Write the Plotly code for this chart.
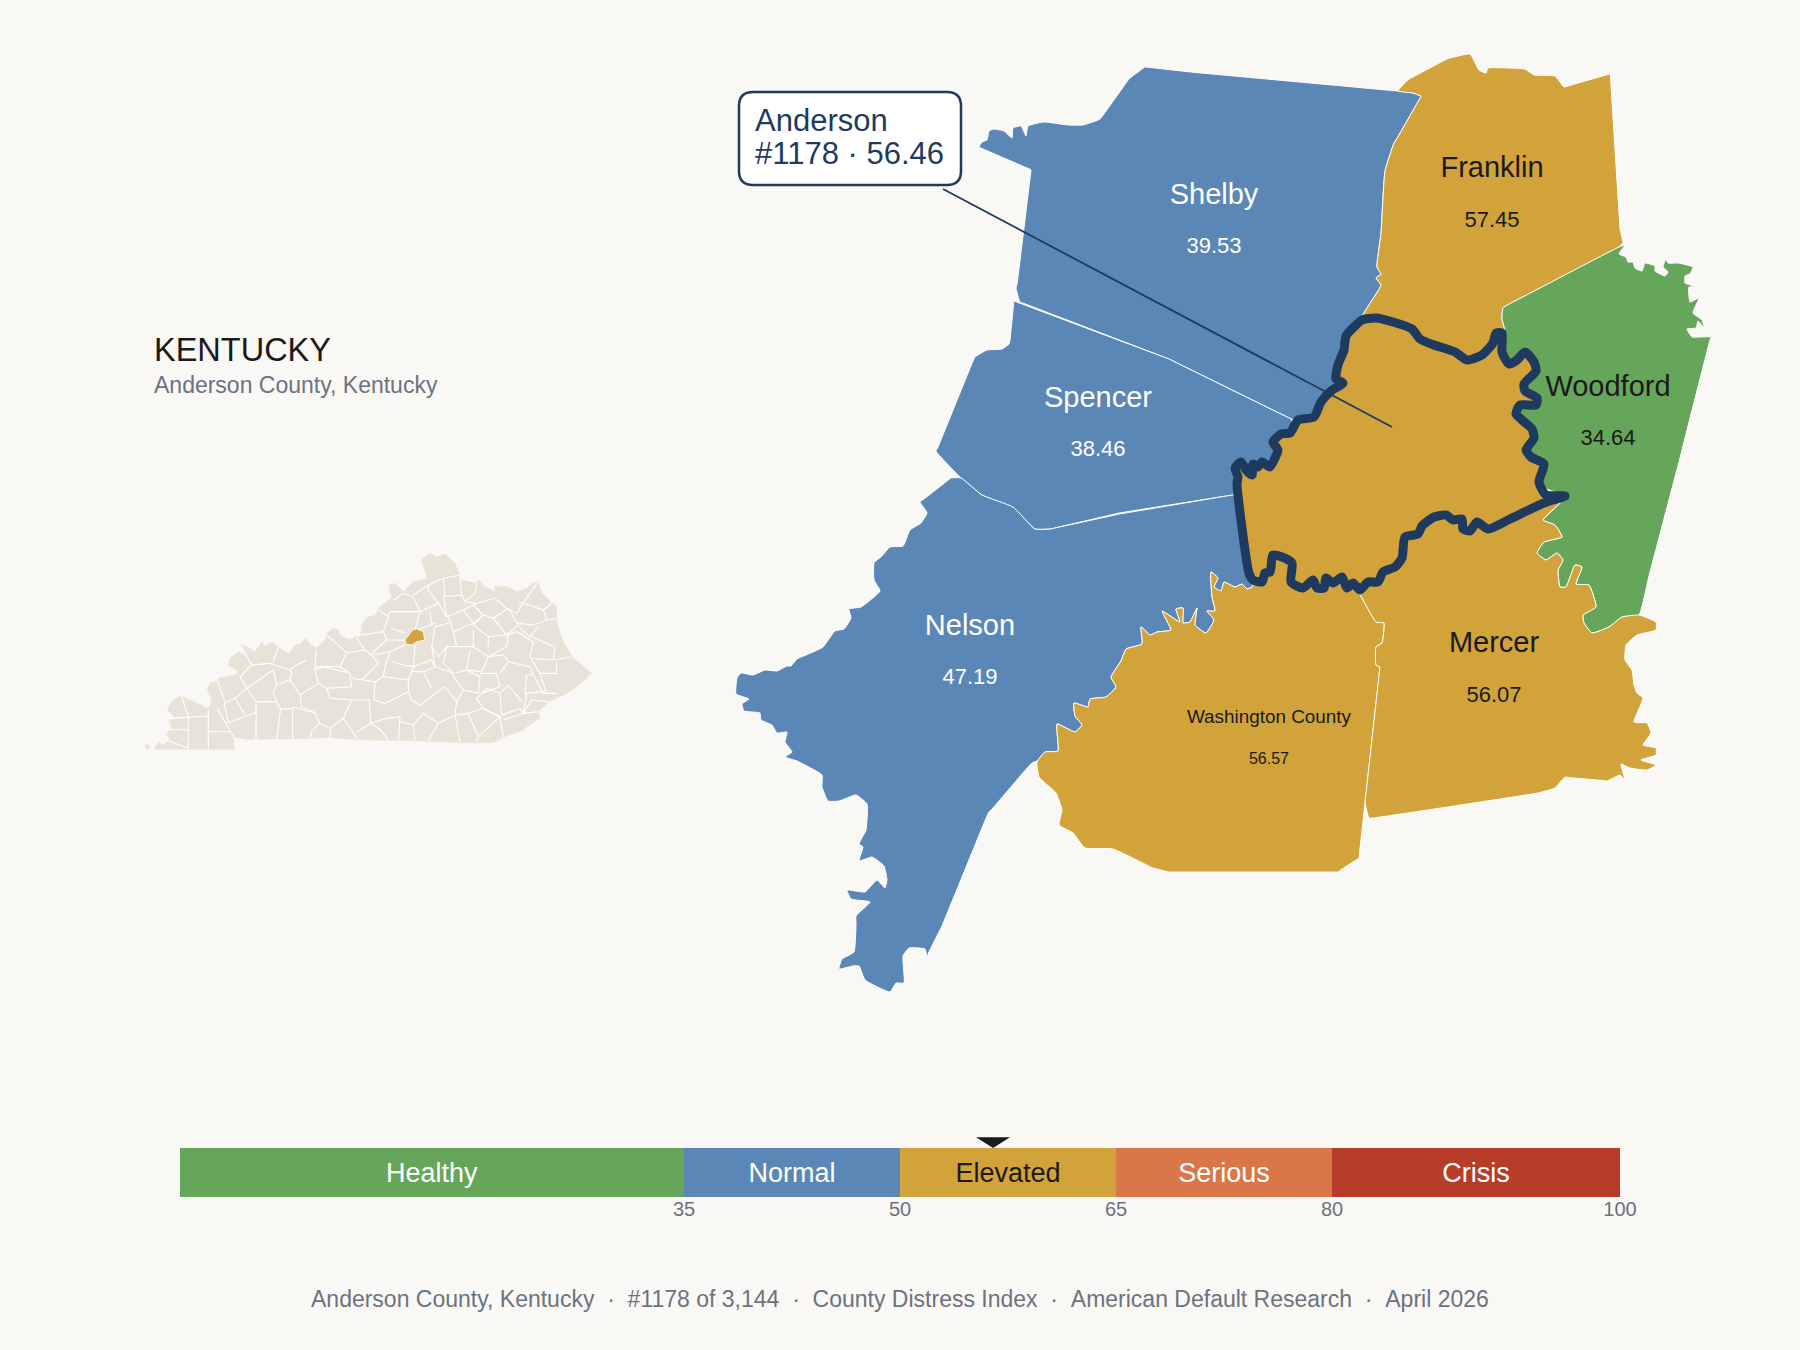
import plotly.graph_objects as go

# county outlines, in map units
shelby = [(1145,67),(1142,69),(1129,79),(1126,83),(1100,119),(1097,120.5),(1083,125),(1068,125),(1044,122),(1028,126),(1026,136),(1021,126),(1013,128),(1012,138),(1004,131),(994,129),(989,131),(987,140),(982,142),(979,147),(983,149),(1027,168),(1031,170),(1030.5,174),(1017,284),(1016,288),(1020,302),(1024,303.5),(1165,357.5),(1169,359),(1173,361),(1287,417),(1291,419),(1340,420),(1370,325),(1362,317),(1369,305),(1381,285),(1376,278),(1381,274),(1377,267),(1381,233),(1385,171),(1394,143),(1396,140),(1419,100),(1421,96),(1417,94.5),(1413,93),(1398,91),(1394,90.7),(1204,73.3),(1200,73),(1150,67.5),(1145,67)]
spencer = [(1014,301),(1018,302.5),(1165,357.5),(1169,359),(1173,361),(1287,417),(1291,419),(1300,480),(1233,495),(1229,495.6),(1123,512.4),(1119,513),(1115,514),(1055,528),(1051,529),(1035,529),(1025,520),(1013,508),(982,495),(961,478),(936,451),(938,447),(973,361),(975,357),(987,350),(1002,349),(1009,344),(1010,340),(1013.5,305),(1014,301)]
nelson = [(951,478),(961,478),(982,495),(1013,507),(1035,529),(1051,529),(1055,528),(1115,515),(1119,514),(1123,513.4),(1229,495.6),(1233,495),(1280,500),(1275,560),(1252,587),(1247,589),(1242,584),(1235,587),(1224,582),(1221,591),(1214,587),(1218,578),(1211,572),(1212,597),(1215,611),(1207,611),(1214,620),(1206,633),(1195,625),(1197,608),(1190,622),(1183,623),(1183,608),(1176,609),(1180,622),(1162,611),(1171,630),(1157,632),(1150,635),(1141,627),(1142,644),(1126,649),(1121,661),(1111,677),(1116,687),(1106,697),(1090,699),(1088,707),(1074,703),(1075,716),(1082,725),(1075,732),(1057,724),(1058,751),(1045,752),(1037,761),(1032,763),(993,808),(989,812),(987,816),(942,926),(940,930),(928.5,953),(927,957),(925,949),(909,948),(903,956),(904,983),(896,983),(890,992),(865,980),(859,966),(853,966),(839,969),(842,959),(854,952),(856,925),(856,916),(870,902),(851,899),(847,890),(865,892),(877,880),(885,888),(887,880),(884,866),(872,857),(859,861),(863,847),(859,844),(866,830),(867,804),(856,795),(839,801),(828,801),(822,787),(822,775),(797,761),(785,757),(792,752),(785,742),(787,732),(777,733),(772,725),(761,720),(760,713),(744,711),(742,704),(749,699),(736,694),(737,678),(741,673),(753,675),(765,670),(777,671),(787,666),(791,666),(797,659),(813,652),(823,647),(835,631),(844,629),(851,618),(849,609),(861,607),(880,591),(874,580),(874,563),(882,556),(890,547),(903,546),(910,530),(921,523),(927,513),(920,502),(924,499),(947,481),(951,478)]
franklin = [(1398,91),(1409,79),(1412,77.5),(1444,60.5),(1447,59),(1470,54),(1479,70),(1486,73),(1488,68),(1509,68),(1525,69),(1534,75),(1555,76),(1564,87),(1568,86),(1606,75),(1610,74),(1611,85),(1611.3,90),(1619.7,224),(1620,229),(1623,243),(1619,247),(1517,300),(1513,302),(1503,308),(1502,319),(1505,331),(1500,345),(1420,400),(1370,325),(1362,317),(1369,305),(1381,285),(1376,278),(1381,274),(1377,267),(1381,233),(1385,171),(1394,143),(1396,140),(1419,100),(1421,96),(1417,94.5),(1413,93),(1398,91)]
woodford = [(1625,245),(1619,254),(1626,257),(1628,262),(1633,262),(1635,268),(1642,271),(1645,263),(1655,266),(1655,271),(1665,276),(1668,272),(1663,267),(1666,259),(1668,263),(1678,263),(1693,267),(1690,274),(1685,276),(1685,283),(1697,287),(1689,287),(1690,302),(1699,298),(1693,313),(1702,320),(1704,328),(1698,321),(1696,328),(1687,329),(1692,337),(1700,337),(1711,337),(1710,340),(1683,446),(1682,450),(1680,458),(1649,576),(1648,580),(1639,615),(1622,617),(1609,627),(1592,633),(1584,623),(1583,615),(1596,607),(1589,585),(1576,584),(1582,567),(1575,565),(1566,587),(1560,587),(1558,570),(1563,560),(1557,553),(1546,560),(1537,553),(1544,542),(1562,537),(1555,525),(1543,520),(1565,497),(1500,470),(1500,345),(1505,331),(1502,319),(1503,308),(1513,302),(1517,300),(1619,247),(1625,245)]
washington = [(1037,762),(1039,777),(1056,793),(1062,810),(1059,825),(1073,833),(1085,848),(1113,849),(1153,868),(1157,869),(1169,872),(1173,872),(1334,872),(1338,872),(1341,869.7),(1356,860),(1359,858),(1359.4,854),(1379.6,671),(1380,667),(1376,665),(1376,647),(1382,643),(1384,623),(1376,622),(1359,593),(1330,560),(1270,540),(1252,587),(1247,589),(1242,584),(1235,587),(1224,582),(1221,591),(1214,587),(1218,578),(1211,572),(1212,597),(1215,611),(1207,611),(1214,620),(1206,633),(1195,625),(1197,608),(1190,622),(1183,623),(1183,608),(1176,609),(1180,622),(1162,611),(1171,630),(1157,632),(1150,635),(1141,627),(1142,644),(1126,649),(1121,661),(1111,677),(1116,687),(1106,697),(1090,699),(1088,707),(1074,703),(1075,716),(1082,725),(1075,732),(1057,724),(1058,751),(1045,752),(1037,762)]
mercer = [(1359,593),(1376,622),(1384,623),(1382,643),(1376,647),(1376,665),(1380,667),(1379.5,671),(1365.5,798),(1365,802),(1369,818),(1373,818),(1538,793),(1542,792),(1555,788),(1565,777),(1569,777.5),(1603,780.5),(1607,781),(1620,775),(1625,780),(1621,764),(1630,768),(1647,770),(1656,765),(1641,760),(1656,755),(1656,748),(1643,745),(1651,733),(1647,723),(1634,722),(1643,698),(1637,693),(1634,685),(1632,670),(1625,660),(1626,645),(1637,635),(1656,630),(1656,622),(1639,615),(1622,617),(1609,627),(1592,633),(1584,623),(1583,615),(1596,607),(1589,585),(1576,584),(1582,567),(1575,565),(1566,587),(1560,587),(1558,570),(1563,560),(1557,553),(1546,560),(1537,553),(1544,542),(1562,537),(1555,525),(1543,520),(1565,497),(1480,500),(1400,530),(1330,560),(1359,593)]
anderson = [(1362,320),(1376,318),(1393,322),(1412,329),(1420,339),(1434,345),(1455,352),(1467,360),(1482,355),(1493,343),(1496,333),(1502,333),(1502,352),(1509,364),(1517,360),(1525,352),(1534,362),(1536,371),(1524,384),(1525,391),(1537,398),(1536,405),(1520,405),(1516,414),(1522,420),(1532,429),(1534,438),(1526,450),(1531,457),(1544,464),(1539,482),(1546,495),(1565,496),(1544,503),(1510,519),(1488,529),(1477,522),(1470,531),(1463,529),(1462,519),(1453,520),(1446,515),(1434,517),(1422,526),(1418,534),(1405,537),(1402,558),(1395,567),(1383,572),(1378,582),(1368,582),(1360,590),(1353,583),(1347,588),(1342,577),(1333,583),(1326,578),(1324,588),(1317,588),(1313,580),(1303,588),(1291,582),(1292,563),(1282,557),(1273,555),(1270,572),(1265,573),(1262,582),(1253,580),(1249,573),(1237,483),(1238,477),(1235,468),(1241,462),(1246,470),(1252,475),(1253,464),(1258,467),(1262,462),(1270,467),(1275,458),(1278,450),(1273,442),(1281,434),(1290,433),(1298,420),(1314,417),(1321,402),(1331,391),(1343,383),(1336,379),(1338,365),(1344,350),(1346,336),(1355,326),(1362,320)]
leader = [(943,189),(1392,427)]

county_names = ["Shelby", "Spencer", "Nelson", "Franklin", "Woodford", "Washington County", "Mercer"]
county_scores = ["39.53", "38.46", "47.19", "57.45", "34.64", "56.57", "56.07"]
county_colors = ["#5b87b7", "#5b87b7", "#5b87b7", "#d2a33a", "#66a65a", "#d2a33a", "#d2a33a"]
label_colors = ["white", "white", "white", "#1a1a1a", "#1a1a1a", "#1a1a1a", "#1a1a1a"]
name_x = [1214, 1098, 970, 1492, 1608, 1269, 1494]
name_y = [197, 400, 628, 170, 389, 718, 645]
score_y = [247, 450, 678, 221, 439, 760, 696]
name_size = [29, 29, 29, 29, 29, 18.9, 29]
score_size = [22, 22, 22, 22, 22, 16, 22]

# state inset, own units
ky_outline = [(72,658),(85,635),(100,645),(120,628),(110,610),(125,590),(115,570),(135,565),(112,540),(125,515),(150,497),(180,510),(215,525),(228,535),(240,530),(245,510),(232,480),(240,458),(262,453),(265,445),(315,435),(325,425),(295,405),(300,385),(325,365),(345,375),(335,345),(350,350),(375,365),(395,335),(405,348),(425,335),(445,350),(465,365),(480,370),(495,345),(515,340),(525,325),(545,345),(560,355),(585,330),(590,310),(610,295),(625,300),(630,315),(660,330),(675,320),(692,320),(695,285),(710,262),(740,255),(745,235),(775,210),(785,205),(775,165),(795,160),(820,185),(850,155),(890,148),(885,125),(875,90),(900,68),(920,80),(945,72),(975,100),(987,130),(995,150),(1040,160),(1045,150),(1065,170),(1095,185),(1095,170),(1130,170),(1160,185),(1190,175),(1205,160),(1225,155),(1235,190),(1265,215),(1280,230),(1280,270),(1290,310),(1300,335),(1325,375),(1330,385),(1385,430),(1340,470),(1310,490),(1255,515),(1225,545),(1230,565),(1190,590),(1180,600),(1125,620),(1090,638),(1000,638),(850,632),(700,630),(600,623),(480,627),(350,628),(310,620),(313,658),(72,658)]
ky_island = [(44,648),(50,642),(59,650),(52,659),(44,648)]
ky_anderson = [(825,330),(848,300),(860,297),(880,305),(884,330),(860,335),(845,345),(828,342),(825,330)]
ky_lines = [
    [(175,558),(175,658)],[(235,540),(235,658)],[(118,565),(235,558)],[(110,597),(175,600)],[(155,500),(175,558)],[(235,605),(300,605)],[(262,535),(300,605),(310,620)],[(110,630),(175,655)],
    [(295,578),(378,548),(378,628)],[(283,520),(295,578)],[(283,520),(315,505),(345,555)],[(315,505),(350,475),(378,515),(378,548)],[(378,515),(440,515),(452,535),(440,628)],[(452,538),(488,535),(488,628)],[(488,532),(555,548),(568,580),(545,605),(540,625)],[(568,580),(600,595),(602,623)],[(600,595),(640,565),(682,625)],[(640,565),(665,510),(718,510),(722,580)],[(682,605),(722,580),(752,600),(775,630)],[(722,580),(770,565),(810,560),(805,630)],[(810,575),(850,585),(855,630)],[(850,585),(880,550),(925,580),(895,632)],[(925,580),(975,555),(990,635)],[(975,555),(1015,550),(1045,620),(1040,635)],[(1015,550),(1055,535),(1110,560),(1045,620)],[(1110,560),(1120,620)],[(1120,570),(1180,550),(1225,545)],
    [(262,453),(285,515)],[(330,440),(350,475),(430,420)],[(330,440),(365,405),(420,400),(480,420),(500,405),(530,390)],[(365,405),(340,360)],[(430,395),(445,350)],[(430,420),(440,465),(430,490),(440,515)],[(440,465),(480,450),(510,495),(515,530),(555,548)],[(480,450),(485,430),(480,420)],[(510,495),(565,460),(590,475),(600,505),(665,510)],[(565,460),(555,420),(580,410),(660,430),(665,470),(590,475)],[(555,420),(558,360)],[(558,410),(630,410),(650,368),(590,315)],[(650,368),(705,360),(680,325)],[(630,410),(660,430)],
    [(665,445),(735,455),(732,510),(765,520),(835,485),(845,510),(870,525),(945,470),(980,515),(975,555)],[(835,450),(835,485)],[(735,455),(760,440),(835,450),(845,425)],[(705,360),(725,375),(745,400),(695,450)],[(725,375),(780,365),(825,345)],[(780,365),(765,410),(760,440)],[(785,395),(820,405),(850,410),(845,425),(880,425),(905,475)],[(850,410),(905,390),(915,410),(880,425)],[(855,345),(850,410)],[(692,315),(760,305),(770,330),(825,330)],[(770,330),(725,370)],[(785,295),(825,310)],[(780,245),(870,245),(855,300)],[(790,210),(820,190),(850,200),(870,245)],[(745,240),(775,260),(780,245)],[(775,260),(760,305)],
    [(850,195),(895,165),(940,145),(990,135)],[(895,165),(895,180),(925,220),(870,245)],[(940,145),(945,200),(995,195),(990,140)],[(925,220),(950,260),(940,200)],[(995,195),(1005,215),(1035,190),(1040,160)],[(1005,215),(1040,220),(1095,205),(1130,235),(1160,250),(1185,210),(1225,155)],[(900,245),(905,285)],[(860,300),(905,285),(915,280)],[(950,260),(1000,240),(1040,220)],[(1000,240),(1030,280),(970,305),(955,260)],[(1030,225),(1060,255),(1030,280)],[(1060,255),(1090,265),(1135,235)],[(1060,255),(1030,285),(1075,320),(1130,315)],[(1090,265),(1130,315),(1165,285),(1135,235)],[(1165,215),(1240,240),(1250,270),(1210,285),(1165,280)],[(1240,240),(1270,215)],[(1165,290),(1200,320),(1225,290)],[(1250,270),(1280,265)],[(1205,320),(1275,350)],[(1130,315),(1160,305),(1210,335),(1200,380)],[(1275,350),(1270,390)],[(1210,385),(1270,390),(1325,380)],
    [(915,290),(970,275)],[(915,290),(905,350),(925,380),(950,350)],[(970,305),(980,350),(1030,350),(1030,300)],[(1030,350),(1075,380),(1130,350),(1135,315)],[(1075,320),(1075,350)],[(1075,380),(1055,425),(1010,420),(1020,360)],[(980,350),(950,350),(940,400),(970,430)],[(905,350),(915,410),(970,430),(970,440),(1000,480)],[(975,430),(1010,420),(1050,440),(1045,490),(1000,480),(980,515)],[(1050,430),(1100,430),(1110,470),(1055,490)],[(1040,505),(1060,535),(1110,560)],[(1040,505),(1070,475),(1110,490)],[(1110,490),(1115,555),(1170,535),(1180,550)],[(1110,490),(1135,465),(1175,515)],[(1110,430),(1135,395),(1200,410),(1210,435),(1240,490),(1250,490)],[(1135,395),(1120,375),(1075,380)],[(1210,435),(1190,435),(1185,490),(1240,485)],[(1200,380),(1230,430),(1280,430),(1280,395)],[(1230,430),(1250,490),(1280,490)],[(1190,490),(1180,550),(1205,510),(1255,515)],
]

# distress bands
band_names = ["Healthy", "Normal", "Elevated", "Serious", "Crisis"]
band_widths = [35, 15, 15, 15, 20]
band_colors = ["#66a65a", "#5b87b7", "#d2a33a", "#d9774a", "#b73d2a"]
band_text = ["white", "white", "#1a1a1a", "white", "white"]
band_ticks = [35, 50, 65, 80, 100]
anderson_score = 56.46

BG = "#faf8f4"
NAVY = "#1f3a5f"
GOLD = "#d2a33a"
GREY = "#6b7280"
FONT = "Liberation Sans"


def xs(pts):
    return [p[0] for p in pts]


def ys(pts):
    return [p[1] for p in pts]


fig = go.Figure()

outlines = [shelby, spencer, nelson, franklin, woodford, washington, mercer]
for name, pts, col in zip(county_names, outlines, county_colors):
    fig.add_trace(go.Scatter(x=xs(pts), y=ys(pts), mode="lines", fill="toself", fillcolor=col,
                             line=dict(color="white", width=1, shape="spline", smoothing=0.4), name=name, hoverinfo="name"))

fig.add_trace(go.Scatter(x=xs(anderson), y=ys(anderson), mode="lines", fill="toself", fillcolor=GOLD,
                         line=dict(color=NAVY, width=9, shape="spline", smoothing=0.6), name="Anderson", hoverinfo="name"))
fig.add_trace(go.Scatter(x=xs(leader), y=ys(leader), mode="lines", line=dict(color=NAVY, width=1.8), hoverinfo="skip"))

for i in range(len(county_names)):
    fig.add_trace(go.Scatter(x=[name_x[i], name_x[i]], y=[name_y[i], score_y[i]], mode="text",
                             text=[county_names[i], county_scores[i]], textposition="middle center",
                             textfont=dict(family=FONT, color=label_colors[i], size=[name_size[i], score_size[i]]),
                             hoverinfo="skip"))

# inset
for pts, col in [(ky_outline, "#e8e3d9"), (ky_island, "#e8e3d9")]:
    fig.add_trace(go.Scatter(x=xs(pts), y=ys(pts), xaxis="x3", yaxis="y3", mode="lines", fill="toself",
                             fillcolor=col, line=dict(color="#e8e3d9", width=0.5), hoverinfo="skip"))
line_x = []
line_y = []
for seg in ky_lines:
    line_x += xs(seg) + [None]
    line_y += ys(seg) + [None]
fig.add_trace(go.Scatter(x=line_x, y=line_y, xaxis="x3", yaxis="y3", mode="lines",
                         line=dict(color="white", width=1.1), hoverinfo="skip"))
fig.add_trace(go.Scatter(x=xs(ky_anderson), y=ys(ky_anderson), xaxis="x3", yaxis="y3", mode="lines", fill="toself",
                         fillcolor=GOLD, line=dict(color="white", width=0.8), hoverinfo="skip"))

# gauge
for name, w, col, tc in zip(band_names, band_widths, band_colors, band_text):
    fig.add_trace(go.Bar(x=[w], y=[0], orientation="h", width=1, xaxis="x2", yaxis="y2", marker=dict(color=col, line=dict(width=0)),
                         text=[name], textposition="inside", insidetextanchor="middle", textangle=0,
                         constraintext="none", textfont=dict(family=FONT, size=27, color=tc), name=name, hoverinfo="name"))
# score marker sits above the bar, so y2 runs a little past the top of the bars
fig.add_trace(go.Scatter(x=[anderson_score - 1.18, anderson_score + 1.18, anderson_score, anderson_score - 1.18],
                         y=[0.72, 0.72, 0.5, 0.72], xaxis="x2", yaxis="y2", mode="lines", fill="toself",
                         fillcolor="#1a1a1a", line=dict(color="#1a1a1a", width=0), hoverinfo="skip"))

box = "M 753 92 L 947 92 Q 961 92 961 106 L 961 171 Q 961 185 947 185 L 753 185 Q 739 185 739 171 L 739 106 Q 739 92 753 92 Z"
fig.update_layout(
    width=1800, height=1350, margin=dict(l=0, r=0, t=0, b=0), showlegend=False, barmode="stack", bargap=0,
    paper_bgcolor=BG, plot_bgcolor=BG, font=dict(family=FONT),
    xaxis=dict(range=[0, 1800], domain=[0, 1], visible=False, automargin=False),
    yaxis=dict(range=[1350, 0], domain=[0, 1], visible=False, automargin=False),
    xaxis2=dict(range=[0, 100], domain=[0.1, 0.9], anchor="y2", tickmode="array", tickvals=band_ticks,
                showgrid=False, zeroline=False, showline=False, ticks="", ticklabelstandoff=-2, automargin=False,
                tickfont=dict(family=FONT, size=20, color=GREY)),
    yaxis2=dict(range=[-0.5, 0.745], domain=[153 / 1350, 214 / 1350], anchor="x2", visible=False, automargin=False),
    xaxis3=dict(range=[0, 1440], domain=[130 / 1800, 610 / 1800], anchor="y3", visible=False, automargin=False),
    yaxis3=dict(range=[720, 0], domain=[580 / 1350, 820 / 1350], anchor="x3", visible=False, automargin=False),
    shapes=[dict(type="path", path=box, xref="x", yref="y", fillcolor="white", line=dict(color=NAVY, width=2.5), layer="above")],
    annotations=[
        dict(text="Anderson", x=753, y=120, xref="x", yref="y", xanchor="left", yanchor="middle", showarrow=False,
             font=dict(family=FONT, size=31, color=NAVY)),
        dict(text="#1178 · 56.46", x=753, y=153, xref="x", yref="y", xanchor="left", yanchor="middle", showarrow=False,
             font=dict(family=FONT, size=31, color=NAVY)),
        dict(text="KENTUCKY", x=152, y=350, xref="x", yref="y", xanchor="left", yanchor="middle", showarrow=False,
             font=dict(family=FONT, size=32.5, color="#1a1a1a")),
        dict(text="Anderson County, Kentucky", x=152, y=385, xref="x", yref="y", xanchor="left", yanchor="middle", showarrow=False,
             font=dict(family=FONT, size=23, color=GREY)),
        dict(text="Anderson County, Kentucky\u00a0\u00a0·\u00a0\u00a0#1178 of 3,144\u00a0\u00a0·\u00a0\u00a0County Distress Index\u00a0\u00a0·\u00a0\u00a0American Default Research\u00a0\u00a0·\u00a0\u00a0April 2026",
             x=900, y=1299, xref="x", yref="y", xanchor="center", yanchor="middle", showarrow=False,
             font=dict(family=FONT, size=23, color=GREY)),
    ],
)

# page margin and scrollbar would push the figure off the window
fig.write_html("out.html", config={"displayModeBar": False},
               post_script="document.documentElement.style.overflow='hidden';document.body.style.margin='0';")
